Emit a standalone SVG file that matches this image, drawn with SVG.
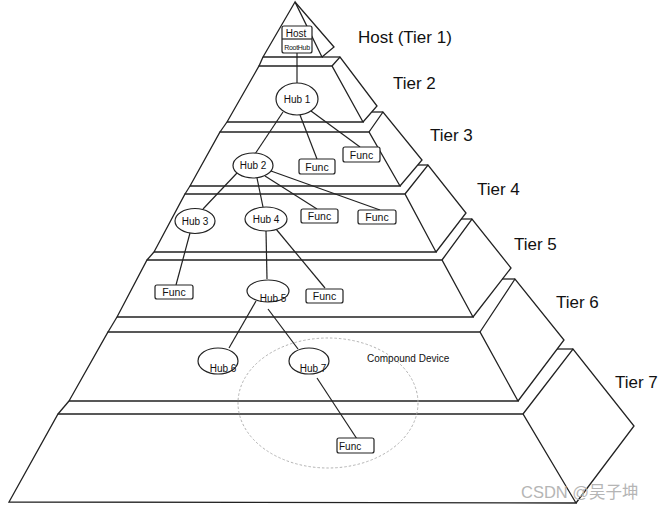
<svg xmlns="http://www.w3.org/2000/svg" width="667" height="511" viewBox="0 0 667 511">
  <style>
    .edge { fill: none; stroke: #222; stroke-width: 1.3; stroke-linejoin: miter; }
    .face { fill: #fff; stroke: #222; stroke-width: 1.3; stroke-linejoin: miter; }
    .node { fill: #fff; stroke: #222; stroke-width: 1.2; }
    .link { fill: none; stroke: #222; stroke-width: 1.2; }
    .lbl { font-family: "Liberation Sans", Arial, sans-serif; fill: #111; }
    .tier { font-family: "Liberation Sans", Arial, sans-serif; font-size: 17px; fill: #111; }
    .small { font-size: 10px; text-anchor: middle; }
    .func { font-size: 10.5px; text-anchor: middle; }
  </style>
  <rect width="667" height="511" fill="#fff"/>

  <!-- stepped pyramid, one slab per tier -->
  <g id="tier-1-slab">
    <polygon class="face" points="295,2 263,57 322,57"/>
    <polyline class="edge" points="295,2 334,47 322,57"/>
  </g>
  <g id="tier-2-slab">
    <polygon class="face" points="259,66 332,66 363,122 227,122"/>
    <polyline class="edge" points="332,66 340,57 377,106 363,122"/>
    <line class="edge" x1="259" y1="66" x2="263" y2="57"/>
    <line class="edge" x1="322" y1="57" x2="340" y2="57"/>
  </g>
  <g id="tier-3-slab">
    <polygon class="face" points="220,132 369,132 400,186 190,186"/>
    <polyline class="edge" points="369,132 383,112 422,160 400,186"/>
    <line class="edge" x1="220" y1="132" x2="227" y2="122"/>
    <line class="edge" x1="372" y1="112" x2="383" y2="112"/>
  </g>
  <g id="tier-4-slab">
    <polygon class="face" points="185,194 405,194 436,252 154,252"/>
    <polyline class="edge" points="405,194 428,165 466,213 436,252"/>
    <line class="edge" x1="185" y1="194" x2="190" y2="186"/>
    <line class="edge" x1="418" y1="165" x2="428" y2="165"/>
  </g>
  <g id="tier-5-slab">
    <polygon class="face" points="147,260 442,260 473,317 117,317"/>
    <polyline class="edge" points="442,260 472,219 511,268 473,317"/>
    <line class="edge" x1="147" y1="260" x2="154" y2="252"/>
    <line class="edge" x1="461" y1="219" x2="472" y2="219"/>
  </g>
  <g id="tier-6-slab">
    <polygon class="face" points="108,332 480,332 518,401 69,401"/>
    <polyline class="edge" points="480,332 515,279 564,340 518,401"/>
    <line class="edge" x1="108" y1="332" x2="117" y2="317"/>
    <line class="edge" x1="502" y1="279" x2="515" y2="279"/>
  </g>
  <g id="tier-7-slab">
    <polygon class="face" points="58,414 523,414 576,503 9,502"/>
    <polyline class="edge" points="523,414 573,349 634,426 576,503"/>
    <line class="edge" x1="58" y1="414" x2="69" y2="401"/>
    <line class="edge" x1="557" y1="349" x2="573" y2="349"/>
  </g>

  <!-- tier captions -->
  <g id="tier-labels">
    <text class="tier" x="358" y="43">Host (Tier 1)</text>
    <text class="tier" x="393" y="89">Tier 2</text>
    <text class="tier" x="430" y="141">Tier 3</text>
    <text class="tier" x="477" y="195">Tier 4</text>
    <text class="tier" x="514" y="250">Tier 5</text>
    <text class="tier" x="556" y="308">Tier 6</text>
    <text class="tier" x="615" y="388">Tier 7</text>
  </g>

  <!-- compound device boundary -->
  <g id="compound-device">
    <ellipse cx="328" cy="403" rx="90" ry="65" fill="none" stroke="#aaa" stroke-width="0.9" stroke-dasharray="2.5,2"/>
    <text class="lbl" x="367" y="362" font-size="10px">Compound Device</text>
  </g>

  <!-- connectors -->
  <g id="connectors">
    <line class="link" x1="297" y1="53" x2="297" y2="83"/>
    <line class="link" x1="283" y1="112" x2="255" y2="154"/>
    <line class="link" x1="300" y1="115" x2="317" y2="159"/>
    <line class="link" x1="311" y1="111" x2="360" y2="147"/>
    <line class="link" x1="237" y1="173" x2="203" y2="209"/>
    <line class="link" x1="257" y1="178" x2="263" y2="207"/>
    <line class="link" x1="265" y1="176" x2="317" y2="209"/>
    <line class="link" x1="271" y1="171" x2="380" y2="210"/>
    <line class="link" x1="190" y1="233" x2="176" y2="285"/>
    <line class="link" x1="266" y1="231" x2="267" y2="279"/>
    <line class="link" x1="276" y1="229" x2="325" y2="288"/>
    <line class="link" x1="256" y1="301" x2="229" y2="348"/>
    <line class="link" x1="268" y1="309" x2="298" y2="349"/>
    <line class="link" x1="317" y1="378" x2="357" y2="439"/>
  </g>

  <!-- nodes -->
  <g id="host">
    <rect class="node" x="282" y="26" width="30" height="27" rx="2"/>
    <line class="link" x1="282" y1="39" x2="312" y2="39"/>
    <text class="lbl small" x="296" y="36.5">Host</text>
    <text class="lbl" x="297" y="50" font-size="7px" text-anchor="middle" fill="#223388" letter-spacing="-0.3">RootHub</text>
  </g>
  <g id="hub-1">
    <ellipse class="node" cx="297" cy="99" rx="21" ry="16"/>
    <text class="lbl small" x="297" y="103">Hub 1</text>
  </g>
  <g id="hub-2">
    <ellipse class="node" cx="253" cy="165.5" rx="20" ry="12.5"/>
    <text class="lbl small" x="253" y="169">Hub 2</text>
  </g>
  <g id="func-t3-a">
    <rect class="node" x="299" y="159" width="36" height="15" rx="2"/>
    <text class="lbl func" x="317" y="170.5">Func</text>
  </g>
  <g id="func-t3-b">
    <rect class="node" x="343" y="147" width="37" height="15" rx="2"/>
    <text class="lbl func" x="361.5" y="158.5">Func</text>
  </g>
  <g id="hub-3">
    <ellipse class="node" cx="195" cy="221" rx="20" ry="12.5"/>
    <text class="lbl small" x="195" y="225">Hub 3</text>
  </g>
  <g id="hub-4">
    <ellipse class="node" cx="266" cy="219" rx="21" ry="12"/>
    <text class="lbl small" x="266" y="223">Hub 4</text>
  </g>
  <g id="func-t4-a">
    <rect class="node" x="301" y="209" width="37" height="14" rx="2"/>
    <text class="lbl func" x="319.5" y="220">Func</text>
  </g>
  <g id="func-t4-b">
    <rect class="node" x="358" y="210" width="38" height="14" rx="2"/>
    <text class="lbl func" x="377" y="221">Func</text>
  </g>
  <g id="func-t5-a">
    <rect class="node" x="155" y="285" width="38" height="14" rx="2"/>
    <text class="lbl func" x="174" y="296">Func</text>
  </g>
  <g id="hub-5">
    <ellipse class="node" cx="268" cy="291" rx="21" ry="11"/>
    <text class="lbl small" x="273" y="302">Hub 5</text>
  </g>
  <g id="func-t5-b">
    <rect class="node" x="306" y="289" width="37" height="14" rx="2"/>
    <text class="lbl func" x="324.5" y="300">Func</text>
  </g>
  <g id="hub-6">
    <ellipse class="node" cx="218" cy="361" rx="20" ry="13"/>
    <text class="lbl small" x="223" y="372">Hub 6</text>
  </g>
  <g id="hub-7">
    <ellipse class="node" cx="309" cy="361" rx="20" ry="13"/>
    <text class="lbl small" x="313" y="372">Hub 7</text>
  </g>
  <g id="func-t7">
    <rect class="node" x="337" y="438" width="37" height="15" rx="2"/>
    <text class="lbl" x="339" y="450" font-size="10px">Func</text>
  </g>

  <text x="521" y="498" font-family="'Liberation Sans', 'Noto Sans CJK SC', sans-serif" font-size="16.5px" fill="#b5b5b5">CSDN @吴子坤</text>
</svg>
